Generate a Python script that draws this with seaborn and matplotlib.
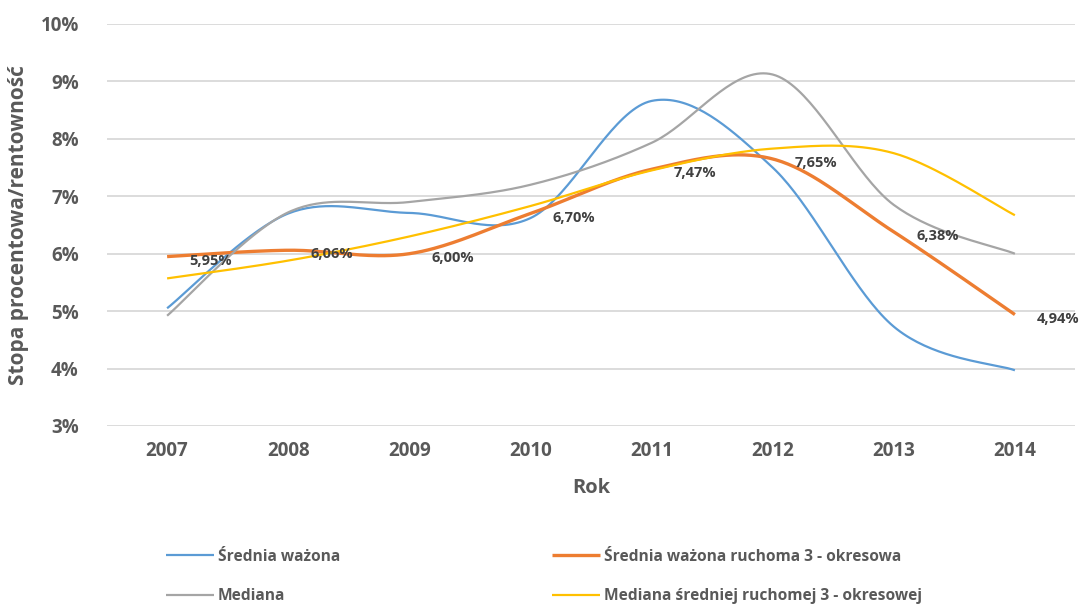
import numpy as np
import pandas as pd
import matplotlib
matplotlib.use('Agg')
import matplotlib.pyplot as plt
import seaborn as sns

years = [2007, 2008, 2009, 2010, 2011, 2012, 2013, 2014]
srednia_wazona = [5.05, 6.70, 6.71, 6.62, 8.66, 7.50, 4.73, 3.97]
srednia_ruchoma = [5.95, 6.06, 6.00, 6.70, 7.47, 7.65, 6.38, 4.94]
mediana = [4.92, 6.72, 6.90, 7.20, 7.93, 9.12, 6.85, 6.00]
mediana_ruchoma = [5.57, 5.88, 6.30, 6.83, 7.45, 7.83, 7.75, 6.67]
labels_ruchoma = ['5,95%', '6,06%', '6,00%', '6,70%', '7,47%', '7,65%', '6,38%', '4,94%']
y_ticks = [3, 4, 5, 6, 7, 8, 9, 10]

series = [
    ('Średnia ważona', srednia_wazona, '#5B9BD5', 1.6),
    ('Średnia ważona ruchoma 3 - okresowa', srednia_ruchoma, '#ED7D31', 2.4),
    ('Mediana', mediana, '#A5A5A5', 1.6),
    ('Mediana średniej ruchomej 3 - okresowej', mediana_ruchoma, '#FFC000', 1.6),
]


# wygładzanie jak w Excelu (krzywe Beziera przez punkty)
def smooth(x, y, n=40):
    x = np.asarray(x, float)
    y = np.asarray(y, float)
    px = np.concatenate([[x[0]], x, [x[-1]]])
    py = np.concatenate([[y[0]], y, [y[-1]]])
    xs, ys = [], []
    t = np.linspace(0, 1, n)
    for i in range(1, len(px) - 2):
        p0 = np.array([px[i], py[i]])
        p3 = np.array([px[i + 1], py[i + 1]])
        p1 = p0 + (np.array([px[i + 1], py[i + 1]]) - np.array([px[i - 1], py[i - 1]])) / 6
        p2 = p3 - (np.array([px[i + 2], py[i + 2]]) - np.array([px[i], py[i]])) / 6
        b = ((1 - t) ** 3)[:, None] * p0 + (3 * (1 - t) ** 2 * t)[:, None] * p1 \
            + (3 * (1 - t) * t ** 2)[:, None] * p2 + (t ** 3)[:, None] * p3
        xs.extend(b[:, 0])
        ys.extend(b[:, 1])
    return xs, ys


sns.set_style('white')
plt.rcParams['font.family'] = ['Open Sans', 'DejaVu Sans']
grey = '#595959'

fig = plt.figure(figsize=(10.85, 6.07), dpi=100)
ax = fig.add_axes([0.0982, 0.2982, 0.893, 0.6623])

for name, vals, color, lw in series:
    sx, sy = smooth(years, vals)
    df = pd.DataFrame({'rok': sx, 'stopa': sy})
    sns.lineplot(data=df, x='rok', y='stopa', ax=ax, color=color, linewidth=lw,
                 sort=False, label=name, solid_capstyle='butt')

for x, y, txt in zip(years, srednia_ruchoma, labels_ruchoma):
    ax.annotate(txt, (x, y), xytext=(16, -3), textcoords='offset points',
                ha='left', va='center', fontsize=10.5, fontweight='bold', color='#404040')

ax.set_xlim(2006.5, 2014.5)
ax.set_ylim(3, 10)
ax.set_yticks(y_ticks)
ax.set_yticklabels([f'{v}%' for v in y_ticks])
ax.set_xticks(years)
ax.grid(axis='y', color='#D9D9D9', linewidth=1.3)
ax.grid(axis='x', visible=False)
for s in ax.spines.values():
    s.set_visible(False)
ax.tick_params(axis='both', length=0, labelsize=13.5, labelcolor=grey)
ax.tick_params(axis='y', pad=20)
ax.tick_params(axis='x', pad=11)
for lab in ax.get_xticklabels() + ax.get_yticklabels():
    lab.set_fontweight('bold')

ax.set_xlabel('Rok', fontsize=14.5, fontweight='bold', color=grey, labelpad=12)
ax.set_ylabel('Stopa procentowa/rentowność', fontsize=15, fontweight='bold', color=grey, labelpad=8)

h, l = ax.get_legend_handles_labels()
ax.get_legend().remove()
order = [0, 2, 1, 3]
leg = fig.legend([h[i] for i in order], [l[i] for i in order], ncol=2, frameon=False,
                 loc='upper left', bbox_to_anchor=(0.14, 0.119), fontsize=11.2,
                 labelcolor=grey, handlelength=3.1, handletextpad=0.25,
                 columnspacing=13.6, labelspacing=1.5)
for t in leg.get_texts():
    t.set_fontweight('bold')

fig.savefig('out.png', dpi=100)
